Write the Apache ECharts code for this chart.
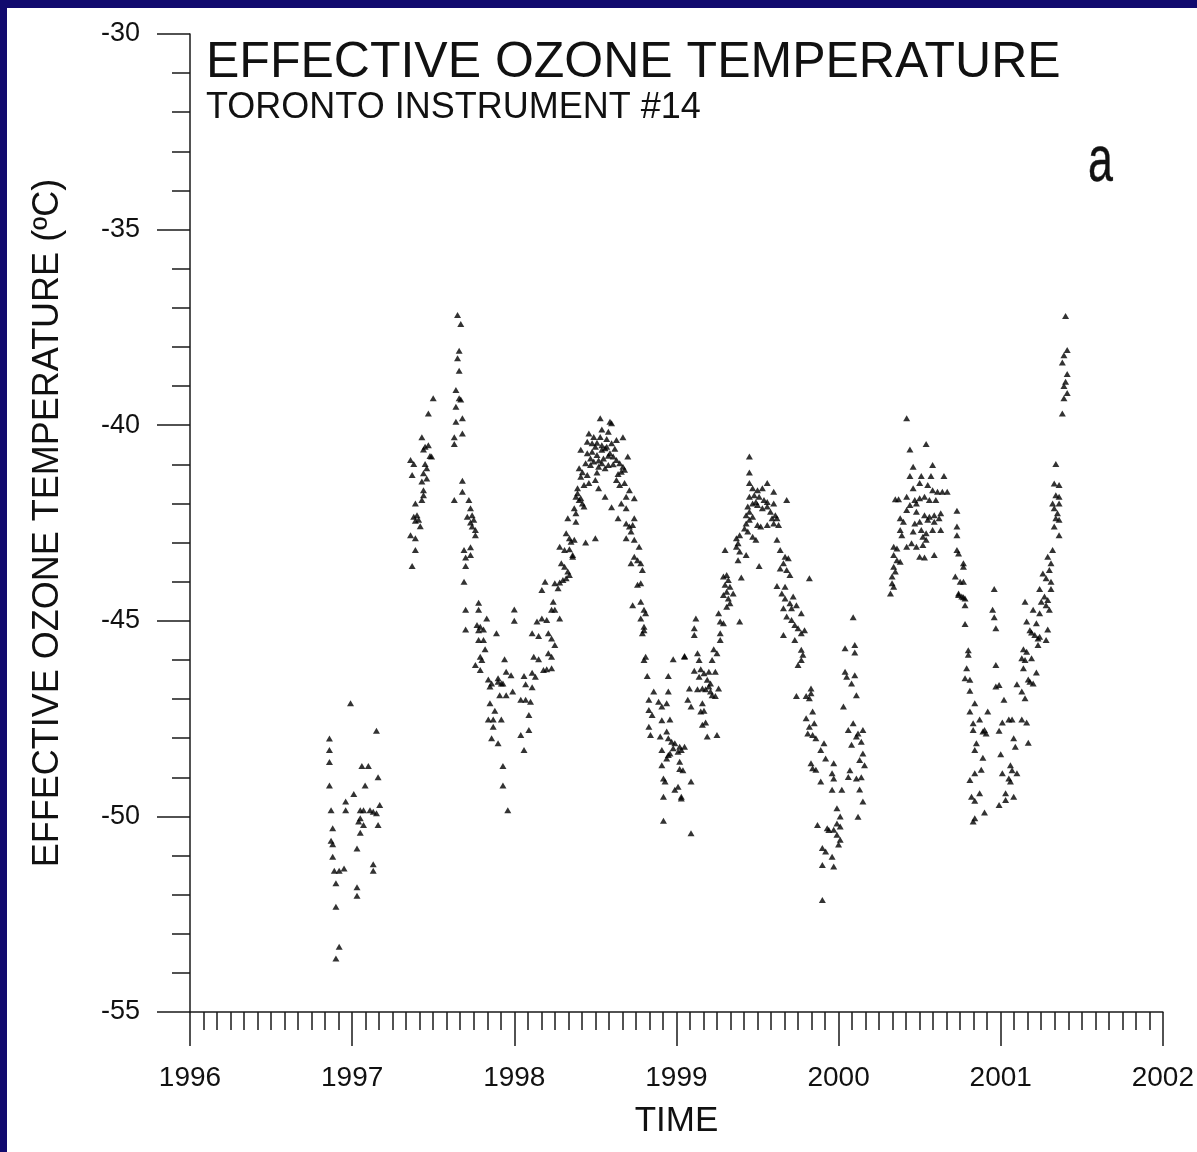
<!DOCTYPE html>
<html>
<head>
<meta charset="utf-8">
<script src="https://cdn.jsdelivr.net/npm/echarts@6/dist/echarts.min.js"></script>
<style>
  html, body { margin: 0; padding: 0; width: 1197px; height: 1152px; overflow: hidden; background: #110a6e; }
  #chart { position: absolute; left: 7px; top: 8px; width: 1190px; height: 1144px; background: #ffffff; }
</style>
</head>
<body>
<div id="chart"></div>
<script>
// Effective ozone temperature (°C) against decimal year, Toronto Brewer #14.
// Each array holds [year, temperature] observations for one part of the record.

const winter1996_97 = [
  [1996.99,-47.11],[1997.15,-47.81],[1996.86,-48.01],[1996.86,-48.30],[1996.86,-48.61],[1997.06,-48.71],
  [1997.10,-48.71],[1997.16,-49.00],[1996.86,-49.21],[1997.08,-49.21],[1997.01,-49.43],[1996.96,-49.62],
  [1996.87,-49.84],[1996.96,-49.84],[1997.05,-49.84],[1997.07,-49.84],[1997.11,-49.84],[1997.13,-49.88],
  [1997.17,-49.71],[1997.15,-49.92],[1997.05,-50.05],[1997.04,-50.13],[1997.07,-50.22],[1997.16,-50.22],
  [1996.88,-50.30],[1997.05,-50.42],[1996.87,-50.62],[1996.88,-50.71],[1997.03,-50.82],[1996.88,-51.03],
  [1997.13,-51.22],[1996.89,-51.39],[1996.92,-51.39],[1996.95,-51.33],[1997.13,-51.39],[1996.90,-51.71],
  [1997.03,-51.81],[1997.03,-52.03],[1996.90,-52.31],[1996.92,-53.33],[1996.90,-53.63]
];

const spring1997 = [
  [1997.50,-39.31],[1997.47,-39.70],[1997.43,-40.31],[1997.45,-40.55],[1997.47,-40.51],[1997.44,-40.62],
  [1997.49,-40.80],[1997.48,-40.79],[1997.36,-40.89],[1997.38,-40.99],[1997.45,-40.99],[1997.46,-41.10],
  [1997.37,-41.27],[1997.44,-41.23],[1997.46,-41.36],[1997.43,-41.44],[1997.44,-41.66],[1997.44,-41.79],
  [1997.43,-41.91],[1997.39,-42.00],[1997.38,-42.34],[1997.40,-42.30],[1997.41,-42.42],[1997.39,-42.44],
  [1997.42,-42.58],[1997.36,-42.81],[1997.39,-42.89],[1997.39,-43.19],[1997.37,-43.60]
];

const autumn1997 = [
  [1997.65,-37.18],[1997.67,-37.41],[1997.66,-38.10],[1997.65,-38.29],[1997.66,-38.61],[1997.64,-39.10],
  [1997.66,-39.31],[1997.67,-39.34],[1997.64,-39.53],[1997.64,-39.91],[1997.68,-39.82],[1997.68,-40.21],
  [1997.63,-40.31],[1997.63,-40.48],[1997.68,-41.42],[1997.68,-41.70],[1997.63,-41.91],[1997.72,-41.91],
  [1997.73,-42.12],[1997.74,-42.30],[1997.71,-42.34],[1997.75,-42.42],[1997.73,-42.49],[1997.76,-42.68],
  [1997.74,-42.59],[1997.76,-42.81],[1997.73,-43.12],[1997.69,-43.19],[1997.70,-43.38],[1997.73,-43.32],
  [1997.70,-43.60],[1997.69,-44.00],[1997.70,-44.72],[1997.78,-44.54],[1997.78,-44.72],[1997.83,-44.94],
  [1997.70,-45.22],[1997.77,-45.11],[1997.79,-45.15],[1997.81,-45.22],[1997.78,-45.24],[1997.89,-45.32],
  [1997.78,-45.49],[1997.81,-45.49],[1997.82,-45.73],[1997.79,-45.92],[1997.80,-46.00],[1997.94,-45.98],
  [1997.76,-46.13],[1997.79,-46.26],[1997.95,-46.30],[1997.84,-46.50],[1997.86,-46.60],[1997.90,-46.56],
  [1997.92,-46.60],[1997.85,-46.68],[1997.91,-46.90],[1997.95,-46.90],[1997.85,-47.11],[1997.88,-47.30],
  [1997.84,-47.52],[1997.87,-47.52],[1997.92,-47.52],[1997.87,-47.71],[1997.86,-48.00],[1997.90,-48.13],
  [1997.93,-48.71],[1997.93,-49.21],[1997.96,-49.84],[1997.90,-46.47],[1997.93,-46.60],[1997.98,-46.39],
  [1997.99,-46.81]
];

const year1998 = [
  [1998.00,-44.71],[1998.00,-45.00],[1998.04,-47.02],[1998.07,-47.02],[1998.10,-47.07],[1998.09,-47.41],
  [1998.09,-47.79],[1998.04,-47.92],[1998.06,-48.30],[1998.06,-46.41],[1998.07,-46.62],[1998.11,-46.33],
  [1998.13,-46.43],[1998.11,-46.70],[1998.12,-45.92],[1998.15,-45.98],[1998.18,-46.26],[1998.20,-46.24],
  [1998.23,-46.21],[1998.21,-45.83],[1998.23,-45.92],[1998.25,-45.62],[1998.11,-45.32],[1998.15,-45.39],
  [1998.21,-45.32],[1998.23,-45.45],[1998.14,-45.02],[1998.17,-44.94],[1998.20,-44.98],[1998.28,-44.94],
  [1998.24,-44.51],[1998.25,-44.72],[1998.23,-44.72],[1998.17,-44.21],[1998.19,-44.00],[1998.25,-44.04],
  [1998.27,-44.17],[1998.28,-44.02],[1998.30,-43.96],[1998.29,-43.53],[1998.31,-43.62],[1998.33,-43.74],
  [1998.34,-43.83],[1998.32,-43.91],[1998.36,-43.36],[1998.28,-43.11],[1998.31,-43.19],[1998.34,-43.17],
  [1998.36,-43.32],[1998.32,-42.76],[1998.34,-42.89],[1998.35,-42.98],[1998.37,-42.93],[1998.44,-43.00],
  [1998.50,-42.89],[1998.33,-42.38],[1998.38,-42.47],[1998.38,-42.25],[1998.37,-42.12],[1998.38,-41.83],
  [1998.40,-41.91],[1998.42,-42.00],[1998.39,-41.74],[1998.41,-41.87],[1998.43,-42.08],[1998.39,-41.61],
  [1998.43,-41.53],[1998.46,-41.48],[1998.52,-41.61],[1998.56,-41.83],[1998.41,-41.32],[1998.45,-41.27],
  [1998.50,-41.40],[1998.51,-41.21],[1998.40,-41.10],[1998.44,-40.97],[1998.47,-41.02],[1998.49,-40.93],
  [1998.52,-41.06],[1998.54,-40.97],[1998.56,-41.10],[1998.58,-41.02],[1998.41,-40.63],[1998.45,-40.72],
  [1998.48,-40.68],[1998.51,-40.76],[1998.54,-40.63],[1998.56,-40.59],[1998.59,-40.72],[1998.61,-40.80],
  [1998.63,-40.89],[1998.65,-40.97],[1998.67,-41.06],[1998.68,-41.14],[1998.45,-40.42],[1998.48,-40.46],
  [1998.51,-40.45],[1998.54,-40.51],[1998.57,-40.55],[1998.60,-40.46],[1998.63,-40.38],[1998.46,-40.21],
  [1998.54,-40.11],[1998.58,-40.17],[1998.60,-39.95],[1998.67,-40.31],[1998.53,-39.82],[1998.59,-39.91],
  [1998.47,-40.85],[1998.50,-40.55],[1998.53,-40.30],[1998.55,-40.85],[1998.57,-40.35],[1998.62,-40.60],
  [1998.64,-41.25],[1998.42,-41.20],[1998.49,-40.30],[1998.52,-40.90],[1998.58,-40.78],[1998.61,-41.00],
  [1998.63,-41.40],[1998.65,-41.53],[1998.68,-41.48],[1998.71,-41.66],[1998.74,-41.87],[1998.69,-41.83],
  [1998.70,-40.80],[1998.66,-41.19],[1998.60,-42.10],[1998.66,-42.00],[1998.69,-42.12],[1998.64,-42.38],
  [1998.74,-42.38],[1998.69,-42.51],[1998.71,-42.59],[1998.73,-42.55],[1998.72,-42.72],[1998.69,-42.89],
  [1998.74,-42.93],[1998.77,-43.11],[1998.74,-43.36],[1998.76,-43.45],[1998.72,-43.53],[1998.78,-43.53],
  [1998.79,-43.70],[1998.76,-44.08],[1998.78,-44.04],[1998.73,-44.60],[1998.78,-44.51],[1998.80,-44.72],
  [1998.81,-44.81],[1998.78,-44.94],[1998.80,-45.15],[1998.80,-45.24],[1998.79,-45.32]
];

const winter1998_99 = [
  [1998.81,-45.92],[1998.80,-46.00],[1998.98,-45.98],[1999.05,-45.92],[1998.82,-46.41],[1998.95,-46.41],
  [1998.86,-46.81],[1998.95,-46.81],[1998.83,-47.02],[1998.89,-47.07],[1998.94,-47.11],[1998.91,-47.19],
  [1998.83,-47.28],[1998.85,-47.41],[1998.91,-47.54],[1998.96,-47.52],[1998.83,-47.71],[1998.84,-47.92],
  [1998.90,-47.96],[1998.94,-47.83],[1998.95,-48.00],[1998.97,-48.09],[1998.99,-48.13],[1998.98,-48.26],
  [1999.02,-48.22],[1999.05,-48.22],[1999.03,-48.30],[1998.91,-48.30],[1998.95,-48.43],[1998.94,-48.52],
  [1998.96,-48.39],[1998.91,-48.69],[1999.02,-48.60],[1999.02,-48.79],[1998.92,-49.03],[1998.93,-49.11],
  [1999.01,-49.24],[1998.99,-49.32],[1998.92,-49.50],[1999.03,-49.50],[1998.92,-50.11],[1999.01,-48.35],
  [1999.04,-48.82],[1999.09,-49.11],[1999.03,-49.54],[1999.09,-50.43]
];

const year1999 = [
  [1999.12,-44.94],[1999.11,-45.19],[1999.11,-45.36],[1999.27,-45.32],[1999.27,-45.49],[1999.05,-45.90],
  [1999.13,-45.83],[1999.14,-46.00],[1999.23,-45.73],[1999.25,-45.83],[1999.22,-46.00],[1999.11,-46.28],
  [1999.15,-46.24],[1999.17,-46.34],[1999.14,-46.43],[1999.20,-46.30],[1999.24,-46.30],[1999.19,-46.51],
  [1999.21,-46.60],[1999.20,-46.68],[1999.18,-46.75],[1999.08,-46.73],[1999.13,-46.75],[1999.16,-46.73],
  [1999.22,-46.90],[1999.24,-46.92],[1999.26,-46.73],[1999.21,-46.81],[1999.07,-47.02],[1999.09,-47.19],
  [1999.16,-47.11],[1999.15,-47.32],[1999.17,-47.30],[1999.16,-47.66],[1999.18,-47.60],[1999.19,-47.96],
  [1999.25,-47.92],[1999.26,-44.81],[1999.27,-45.02],[1999.29,-45.06],[1999.39,-45.02],[1999.29,-43.87],
  [1999.31,-43.83],[1999.32,-43.96],[1999.30,-44.08],[1999.33,-44.13],[1999.31,-44.26],[1999.35,-44.30],
  [1999.29,-44.34],[1999.32,-44.43],[1999.33,-44.55],[1999.31,-44.64],[1999.40,-43.89],[1999.30,-43.19],
  [1999.37,-43.11],[1999.39,-43.23],[1999.38,-43.45],[1999.43,-43.32],[1999.51,-43.60],[1999.37,-42.89],
  [1999.39,-42.81],[1999.38,-43.02],[1999.42,-42.64],[1999.43,-42.51],[1999.45,-42.42],[1999.44,-42.72],
  [1999.47,-42.85],[1999.49,-42.93],[1999.43,-42.30],[1999.45,-42.21],[1999.47,-42.34],[1999.50,-42.55],
  [1999.52,-42.59],[1999.56,-42.55],[1999.60,-42.51],[1999.63,-42.55],[1999.44,-42.08],[1999.47,-42.00],
  [1999.50,-42.04],[1999.53,-42.12],[1999.56,-42.08],[1999.58,-42.21],[1999.61,-42.30],[1999.62,-42.38],
  [1999.59,-42.38],[1999.45,-41.83],[1999.48,-41.79],[1999.51,-41.83],[1999.54,-41.91],[1999.56,-41.96],
  [1999.60,-42.00],[1999.49,-41.96],[1999.47,-41.61],[1999.50,-41.66],[1999.53,-41.61],[1999.45,-41.48],
  [1999.56,-41.48],[1999.60,-41.70],[1999.68,-41.91],[1999.45,-41.21],[1999.45,-40.80],[1999.62,-42.93],
  [1999.64,-43.19],[1999.67,-43.36],[1999.69,-43.40],[1999.66,-43.53],[1999.64,-43.66],[1999.68,-43.70],
  [1999.70,-43.83],[1999.82,-43.91],[1999.62,-44.11],[1999.67,-44.13],[1999.65,-44.30],[1999.67,-44.43],
  [1999.72,-44.38],[1999.70,-44.55],[1999.66,-44.68],[1999.71,-44.68],[1999.74,-44.60],[1999.77,-44.81],
  [1999.68,-44.89],[1999.71,-44.98],[1999.73,-45.11],[1999.75,-45.19],[1999.79,-45.24],[1999.77,-45.32],
  [1999.66,-45.36],[1999.73,-45.49],[1999.77,-45.74],[1999.78,-45.87],[1999.77,-46.00],[1999.75,-46.13],
  [1999.83,-46.73],[1999.74,-46.92],[1999.80,-46.92],[1999.82,-46.98],[1999.83,-46.85],[1999.84,-47.32],
  [1999.80,-47.49],[1999.85,-47.62],[1999.82,-47.71],[1999.81,-47.88],[1999.84,-47.92],[1999.86,-48.00]
];

const winter1999_00 = [
  [1999.91,-48.13],[1999.89,-48.30],[1999.92,-48.52],[1999.97,-48.64],[1999.83,-48.64],[1999.86,-48.81],
  [1999.84,-48.77],[1999.96,-48.90],[1999.89,-49.11],[1999.97,-49.03],[1999.96,-49.32],[2000.02,-49.32],
  [1999.99,-49.79],[2000.01,-50.00],[1999.93,-50.30],[1999.97,-50.34],[1999.99,-50.47],[2000.01,-50.60],
  [2000.00,-50.72],[1999.90,-50.81],[1999.92,-50.90],[1999.96,-51.03],[1999.90,-51.24],[1999.97,-51.28],
  [1999.90,-52.14],[2000.09,-44.91],[2000.04,-45.70],[2000.10,-45.62],[2000.10,-45.81],[2000.04,-46.30],
  [2000.05,-46.43],[2000.10,-46.39],[2000.08,-46.60],[2000.11,-46.90],[2000.03,-47.19],[2000.09,-47.62],
  [2000.06,-47.79],[2000.12,-47.88],[2000.15,-47.79],[2000.11,-47.96],[2000.08,-48.17],[2000.14,-48.09],
  [2000.15,-48.39],[2000.13,-48.56],[2000.16,-48.69],[2000.07,-48.82],[2000.06,-48.99],[2000.11,-49.03],
  [2000.14,-49.00],[2000.13,-49.31],[2000.15,-49.62],[2000.12,-50.01],[1999.99,-50.18],[2000.01,-50.26],
  [1999.87,-50.22],[1999.94,-50.35]
];

const year2000 = [
  [2000.42,-39.82],[2000.44,-40.62],[2000.54,-40.48],[2000.46,-41.06],[2000.58,-41.02],[2000.44,-41.30],
  [2000.51,-41.30],[2000.57,-41.30],[2000.65,-41.30],[2000.46,-41.61],[2000.50,-41.48],[2000.55,-41.53],
  [2000.58,-41.66],[2000.61,-41.70],[2000.64,-41.70],[2000.67,-41.70],[2000.35,-41.89],[2000.37,-41.89],
  [2000.42,-41.83],[2000.47,-41.91],[2000.50,-41.87],[2000.53,-41.83],[2000.56,-41.91],[2000.60,-41.91],
  [2000.44,-42.04],[2000.48,-42.00],[2000.42,-42.17],[2000.48,-42.21],[2000.53,-42.30],[2000.56,-42.34],
  [2000.59,-42.30],[2000.63,-42.25],[2000.73,-42.19],[2000.38,-42.38],[2000.40,-42.47],[2000.47,-42.51],
  [2000.50,-42.47],[2000.55,-42.42],[2000.59,-42.47],[2000.62,-42.38],[2000.38,-42.68],[2000.46,-42.72],
  [2000.51,-42.68],[2000.54,-42.76],[2000.58,-42.68],[2000.63,-42.68],[2000.73,-42.59],[2000.39,-42.81],
  [2000.52,-42.85],[2000.54,-42.93],[2000.73,-42.81],[2000.34,-43.11],[2000.36,-43.15],[2000.42,-43.11],
  [2000.45,-43.02],[2000.48,-43.11],[2000.52,-43.06],[2000.59,-43.32],[2000.50,-43.36],[2000.53,-43.38],
  [2000.34,-43.32],[2000.36,-43.45],[2000.38,-43.49],[2000.34,-43.62],[2000.35,-43.74],[2000.33,-43.87],
  [2000.33,-44.04],[2000.34,-44.13],[2000.32,-44.30],[2000.73,-43.19],[2000.74,-43.28],[2000.77,-43.53],
  [2000.77,-43.62],[2000.72,-43.87],[2000.75,-44.00],[2000.77,-44.00],[2000.74,-44.30],[2000.76,-44.38],
  [2000.78,-44.43],[2000.78,-44.60],[2000.78,-45.08],[2000.74,-44.34],[2000.77,-44.40]
];

const winterSpring2001 = [
  [2000.80,-45.75],[2000.80,-45.87],[2000.79,-46.21],[2000.78,-46.47],[2000.81,-46.51],[2000.81,-46.79],
  [2000.84,-47.11],[2000.81,-47.32],[2000.92,-47.32],[2000.87,-47.52],[2000.83,-47.62],[2000.83,-47.79],
  [2000.89,-47.83],[2000.91,-47.88],[2000.90,-47.79],[2000.85,-48.13],[2000.84,-48.30],[2000.89,-48.50],
  [2000.88,-48.81],[2000.84,-48.90],[2000.81,-49.07],[2000.82,-49.50],[2000.84,-49.60],[2000.87,-49.41],
  [2000.90,-49.90],[2000.84,-50.05],[2000.83,-50.13],[2000.96,-44.19],[2000.95,-44.72],[2000.96,-44.91],
  [2000.97,-45.19],[2000.97,-46.13],[2000.99,-46.64],[2000.97,-46.68],[2001.02,-47.02],[2001.01,-47.60],
  [2000.99,-47.81],[2001.07,-47.52],[2001.05,-47.52],[2001.13,-47.52],[2001.16,-47.60],[2001.08,-48.00],
  [2001.09,-48.22],[2001.17,-48.12],[2001.00,-48.41],[2001.06,-48.69],[2001.07,-48.82],[2001.10,-48.90],
  [2001.01,-48.90],[2001.05,-49.03],[2001.06,-49.11],[2001.03,-49.41],[2001.08,-49.50],[2001.03,-49.58],
  [2000.99,-49.71],[2001.19,-45.30],[2001.23,-45.45],[2001.28,-45.49],[2001.23,-45.62],[2001.14,-45.73],
  [2001.16,-45.79],[2001.13,-45.96],[2001.15,-46.00],[2001.19,-45.96],[2001.14,-46.21],[2001.22,-46.32],
  [2001.17,-46.50],[2001.20,-46.60],[2001.18,-46.56],[2001.10,-46.62],[2001.13,-46.81],[2001.15,-46.98],
  [2001.16,-45.02],[2001.22,-45.06],[2001.29,-45.22],[2001.18,-45.24],[2001.21,-45.36],[2001.24,-45.41],
  [2001.15,-44.51],[2001.20,-44.72],[2001.24,-44.81],[2001.27,-44.38],[2001.29,-44.47],[2001.25,-44.51],
  [2001.28,-44.60],[2001.30,-44.72],[2001.24,-44.19],[2001.31,-44.19],[2001.26,-43.79],[2001.28,-43.91],
  [2001.31,-44.00],[2001.32,-43.19],[2001.29,-43.36],[2001.31,-43.53],[2001.30,-43.70],[2001.33,-41.49],
  [2001.36,-41.53],[2001.34,-41.79],[2001.36,-41.83],[2001.32,-42.00],[2001.36,-42.00],[2001.33,-42.12],
  [2001.35,-42.25],[2001.34,-42.38],[2001.36,-42.42],[2001.33,-42.59],[2001.36,-42.81],[2001.34,-40.99],
  [2001.40,-37.21],[2001.41,-38.08],[2001.39,-38.21],[2001.38,-38.40],[2001.41,-38.69],[2001.40,-38.89],
  [2001.39,-39.00],[2001.41,-39.18],[2001.39,-39.31],[2001.38,-39.70]
];

const observations = [].concat(
  winter1996_97, spring1997, autumn1997, year1998, winter1998_99,
  year1999, winter1999_00, year2000, winterSpring2001
);

const FONT = '"Liberation Sans", Arial, Helvetica, sans-serif';
const INK = '#1a1a1a';

const chart = echarts.init(document.getElementById('chart'), null, { renderer: 'canvas' });

chart.setOption({
  animation: false,
  backgroundColor: '#ffffff',
  title: {
    text: 'EFFECTIVE OZONE TEMPERATURE',
    subtext: 'TORONTO INSTRUMENT #14',
    left: 199,
    top: 30,
    itemGap: 2,
    padding: 0,
    textStyle: { fontFamily: FONT, fontSize: 50, fontWeight: 'normal', color: '#111' },
    subtextStyle: { fontFamily: FONT, fontSize: 36, color: '#111' }
  },
  graphic: [{
    type: 'text',
    x: 1081,
    y: 155,
    scaleX: 0.7,
    style: {
      text: 'a',
      font: '64px "Liberation Sans Narrow", "Liberation Sans", sans-serif',
      fill: '#111',
      stroke: '#111',
      lineWidth: 0.4,
      verticalAlign: 'middle'
    }
  }],
  grid: { left: 183, top: 26, width: 977, height: 978, containLabel: false },
  xAxis: {
    type: 'value',
    min: 1996,
    max: 2002,
    interval: 1,
    name: 'TIME',
    nameLocation: 'middle',
    nameGap: 92,
    nameTextStyle: { fontFamily: FONT, fontSize: 35, color: '#111' },
    axisLine: { show: true, onZero: false, lineStyle: { color: INK, width: 1.5 } },
    axisTick: { show: true, inside: false, length: 34, lineStyle: { color: INK, width: 1.5 } },
    minorTick: { show: true, splitNumber: 12, length: 18, lineStyle: { color: INK, width: 1.5 } },
    axisLabel: {
      margin: 52,
      fontFamily: FONT,
      fontSize: 28,
      color: '#111',
      formatter: (v) => String(v)
    },
    splitLine: { show: false },
    minorSplitLine: { show: false }
  },
  yAxis: {
    type: 'value',
    min: -55,
    max: -30,
    interval: 5,
    name: 'EFFECTIVE OZONE TEMPERATURE (ºC)',
    nameLocation: 'middle',
    nameGap: 124,
    nameRotate: 90,
    nameTextStyle: { fontFamily: FONT, fontSize: 36, color: '#111' },
    axisLine: { show: true, onZero: false, lineStyle: { color: INK, width: 1.5 } },
    axisTick: { show: true, inside: false, length: 33, lineStyle: { color: INK, width: 1.5 } },
    minorTick: { show: true, splitNumber: 5, length: 18, lineStyle: { color: INK, width: 1.5 } },
    axisLabel: { margin: 50, fontFamily: FONT, fontSize: 27, color: '#111' },
    splitLine: { show: false },
    minorSplitLine: { show: false }
  },
  series: [{
    type: 'scatter',
    data: observations,
    symbol: 'triangle',
    symbolSize: [7, 6],
    itemStyle: { color: '#000000' },
    silent: true
  }]
});
</script>
</body>
</html>
